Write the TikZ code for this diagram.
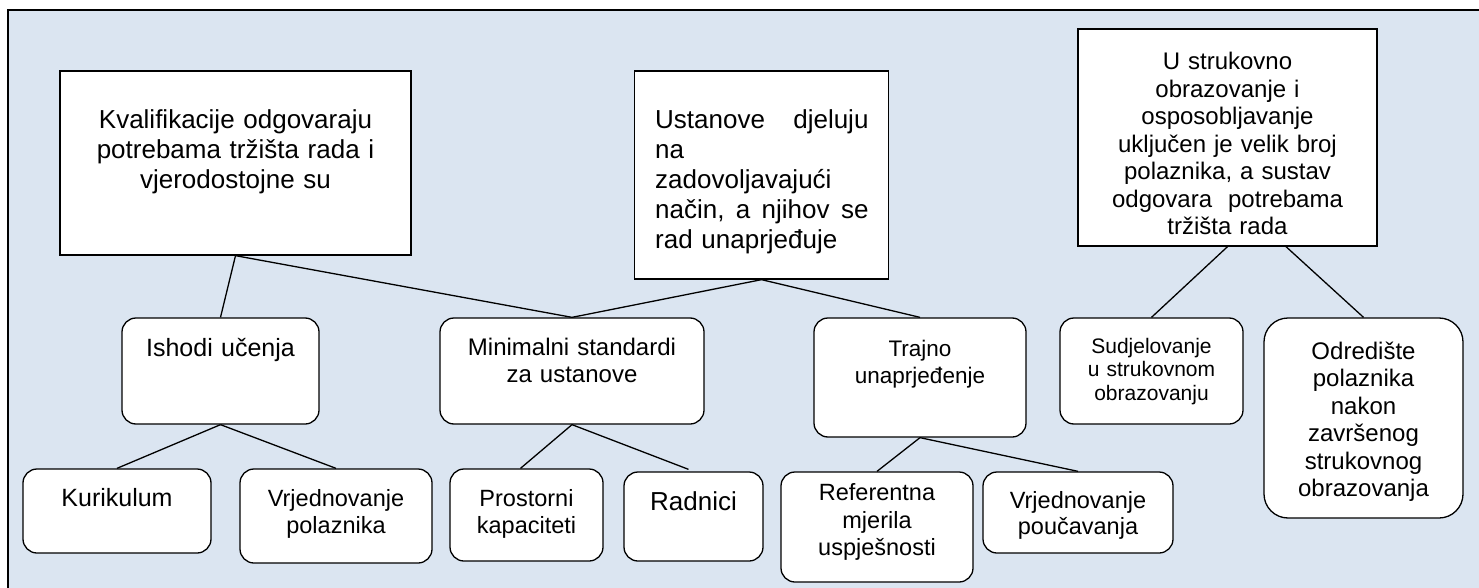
\documentclass[tikz,border=0pt]{standalone}
\usepackage{fontspec}
\setmainfont{Liberation Sans}
\definecolor{bgblue}{HTML}{DBE5F1}
\newcommand{\fsz}[2]{\fontsize{#1}{#2}\selectfont}
\begin{document}
\begin{tikzpicture}[x=1pt,y=-1pt,
  bx/.style={draw=black,line width=1.3pt,fill=white,inner sep=0pt},
  rbx/.style={bx,rounded corners=14pt},
  link/.style={draw=black,line width=1.3pt},
  txt/.style={inner sep=0pt,align=center,anchor=base,text width=#1}]
\useasboundingbox (0,0) rectangle (1479,588);
\clip (0,0) rectangle (1479,588);
\draw[line width=1.2pt,fill=bgblue] (8,10) rectangle (1500,610);

% top-level boxes
\node[bx,minimum width=351pt,minimum height=184pt] (kval) at (235.5,163) {};
\node[bx,minimum width=254pt,minimum height=208pt] (ust) at (761.5,175) {};
\node[bx,minimum width=299pt,minimum height=217pt] (uso) at (1227.5,137.5) {};

% second level
\node[rbx,minimum width=197pt,minimum height=106pt] (ish) at (220.5,371) {};
\node[rbx,minimum width=264pt,minimum height=106pt] (min) at (572,371) {};
\node[rbx,minimum width=212pt,minimum height=119pt] (traj) at (920,377.5) {};
\node[rbx,minimum width=183pt,minimum height=106pt] (sud) at (1151.5,371) {};
\node[rbx,rounded corners=24pt,minimum width=199pt,minimum height=200pt] (odr) at (1363.5,418) {};

% third level
\node[rbx,minimum width=188pt,minimum height=84pt] (kur) at (117,511) {};
\node[rbx,minimum width=192pt,minimum height=94pt] (vpol) at (336,516) {};
\node[rbx,minimum width=153pt,minimum height=92pt] (pros) at (526.5,515) {};
\node[rbx,minimum width=139pt,minimum height=89pt] (rad) at (693.5,516.5) {};
\node[rbx,minimum width=192pt,minimum height=110pt] (ref) at (877,527) {};
\node[rbx,minimum width=190pt,minimum height=81pt] (vpou) at (1078,512.5) {};

% texts
\node[txt=340pt,font=\fsz{26}{30}] (kvalT) at (235.5,128.3) {Kvalifikacije odgovaraju\\potrebama tržišta rada i\\vjerodostojne su};
\node[inner sep=0pt,anchor=base west,align=left,text width=213.3pt,font=\fsz{26}{30}] (ustT) at (655,128.3)
  {\makebox[213.3pt][l]{Ustanove\hfill djeluju}\\na\\zadovoljavajući\\\makebox[213.3pt][l]{način,\hfill a\hfill njihov\hfill se}\\rad unaprjeđuje};
\node[txt=290pt,font=\fsz{24}{27.5}] (usoT) at (1227.5,70) {U strukovno\\obrazovanje i\\osposobljavanje\\uključen je velik broj\\polaznika, a sustav\\odgovara~ potrebama\\tržišta rada};
\node[txt=190pt,font=\fsz{25}{28}] (ishT) at (220.5,356) {Ishodi učenja};
\node[txt=255pt,font=\fsz{24}{27.5}] (minT) at (572,355) {Minimalni standardi\\za ustanove};
\node[txt=205pt,font=\fsz{22.5}{27}] (trajT) at (920,356.7) {Trajno\\unaprjeđenje};
\node[txt=176pt,font=\fsz{21}{23.5}] (sudT) at (1151.5,353.3) {Sudjelovanje\\u strukovnom\\obrazovanju};
\node[txt=190pt,font=\fsz{24}{27.5}] (odrT) at (1363.5,359.3) {Odredište\\polaznika\\nakon\\završenog\\strukovnog\\obrazovanja};
\node[txt=180pt,font=\fsz{25}{28}] (kurT) at (117,506) {Kurikulum};
\node[txt=185pt,font=\fsz{23.5}{27}] (vpolT) at (336,506) {Vrjednovanje\\polaznika};
\node[txt=146pt,font=\fsz{23.5}{26.5}] (prosT) at (526.5,506.7) {Prostorni\\kapaciteti};
\node[txt=132pt,font=\fsz{26}{30}] (radT) at (693.5,510) {Radnici};
\node[txt=185pt,font=\fsz{23.5}{27.5}] (refT) at (877,500.7) {Referentna\\mjerila\\uspješnosti};
\node[txt=183pt,font=\fsz{23.5}{26}] (vpouT) at (1078,508) {Vrjednovanje\\poučavanja};

% connectors
\draw[link] (kval.south) -- (ish.north);
\draw[link] (kval.south) -- (min.north);
\draw[link] (ust.south) -- (min.north);
\draw[link] (ust.south) -- (traj.north);
\draw[link] (ish.south) -- (kur.north);
\draw[link] (ish.south) -- (vpol.north);
\draw[link] (min.south) -- ([xshift=-6pt]pros.north);
\draw[link] (min.south) -- ([xshift=-5pt,yshift=2pt]rad.north);
\draw[link] (traj.south) -- (ref.north);
\draw[link] (traj.south) -- (vpou.north);
\draw[link] (uso.south) -- (sud.north);
\draw[link] ([xshift=58.5pt]uso.south) -- (odr.north);
\end{tikzpicture}
\end{document}
